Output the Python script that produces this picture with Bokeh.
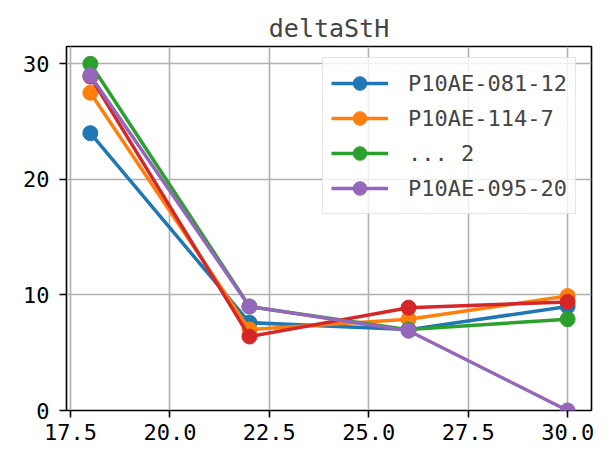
from bokeh.plotting import figure
from bokeh.models import FixedTicker, Legend, Range1d
from bokeh.embed import file_html
from bokeh.resources import INLINE

x_vals = [18, 22, 26, 30]
s_081_12 = [24.0, 7.6, 7.0, 9.0]
s_114_7 = [27.5, 7.0, 7.9, 9.9]
s_2 = [30.0, 9.0, 7.0, 7.9]
s_red = [28.9, 6.4, 8.9, 9.4]
s_095_20 = [29.0, 9.0, 6.9, 0.0]

names = ["P10AE-081-12", "P10AE-114-7", "... 2", None, "P10AE-095-20"]
series = [s_081_12, s_114_7, s_2, s_red, s_095_20]
colors = ["#1f77b4", "#ff7f0e", "#2ca02c", "#d62728", "#9467bd"]

x_ticks = [17.5, 20.0, 22.5, 25.0, 27.5, 30.0]
y_ticks = [0, 10, 20, 30]
title_text = "deltaStH"

FONT = "DejaVu Sans Mono"
FS = "22px"

p = figure(width=605, height=450, output_backend="svg", toolbar_location=None,
           x_range=Range1d(17.4, 30.6), y_range=Range1d(0, 31.5),
           min_border_left=66, min_border_right=14, min_border_top=46,
           min_border_bottom=40, title=title_text)
p.title.align = "center"
p.title.vertical_align = "top"
p.title.text_font = FONT
p.title.text_font_size = "25px"
p.title.text_font_style = "normal"
p.title.standoff = 4

p.outline_line_color = "black"
p.outline_line_width = 1.6
p.outline_line_alpha = 1

for ax in (p.xaxis[0], p.yaxis[0]):
    ax.axis_line_color = None
    ax.major_tick_line_color = "black"
    ax.major_tick_line_width = 1.6
    ax.major_tick_out = 7
    ax.major_tick_in = 0
    ax.minor_tick_line_color = None
    ax.major_label_text_font = FONT
    ax.major_label_text_font_size = FS
    ax.major_label_text_color = "black"

p.xaxis[0].ticker = FixedTicker(ticks=x_ticks)
p.xaxis[0].major_label_overrides = {t: f"{t:.1f}" for t in x_ticks}
p.xaxis[0].major_label_standoff = 6
p.yaxis[0].ticker = FixedTicker(ticks=y_ticks)
p.yaxis[0].major_label_overrides = {t: str(t) for t in y_ticks}
p.yaxis[0].major_label_standoff = 10

p.xgrid.grid_line_color = "#b0b0b0"
p.ygrid.grid_line_color = "#b0b0b0"
p.xgrid.grid_line_width = 1.6
p.ygrid.grid_line_width = 1.6

items = []
for name, ys, c in zip(names, series, colors):
    l = p.line(x_vals, ys, line_color=c, line_width=3.5)
    m = p.scatter(x_vals, ys, size=15, fill_color=c, line_color=c)
    if name is not None:
        items.append((name, [l, m]))

legend = Legend(items=items, location=(256, 196))
legend.label_text_font = FONT
legend.label_text_font_size = FS
legend.glyph_width = 57
legend.glyph_height = 34
legend.label_height = 34
legend.spacing = 1
legend.label_standoff = 20
legend.padding = 8
legend.margin = 0
legend.border_line_color = "#cccccc"
legend.border_line_width = 1.5
legend.background_fill_alpha = 0.8
p.add_layout(legend, "center")

open("out.html", "w").write(file_html(p, INLINE))
